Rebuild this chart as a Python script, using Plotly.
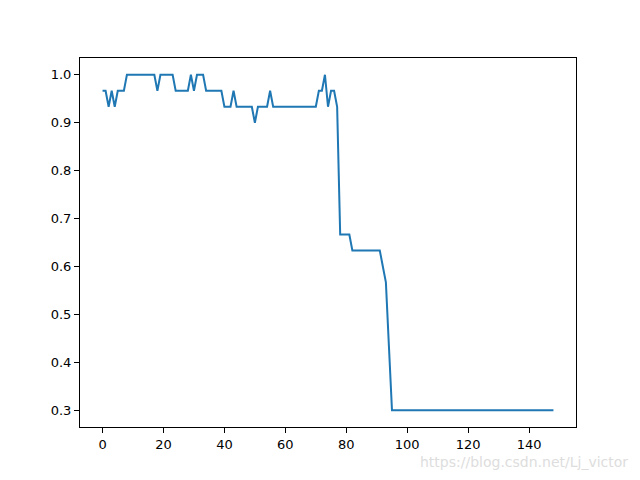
import plotly.graph_objects as go

epochs = list(range(149))
accuracy = [
    0.9667, 0.9667, 0.9333, 0.9667, 0.9333, 0.9667, 0.9667, 0.9667, 1.0, 1.0,
    1.0, 1.0, 1.0, 1.0, 1.0, 1.0, 1.0, 1.0, 0.9667, 1.0,
    1.0, 1.0, 1.0, 1.0, 0.9667, 0.9667, 0.9667, 0.9667, 0.9667, 1.0,
    0.9667, 1.0, 1.0, 1.0, 0.9667, 0.9667, 0.9667, 0.9667, 0.9667, 0.9667,
    0.9333, 0.9333, 0.9333, 0.9667, 0.9333, 0.9333, 0.9333, 0.9333, 0.9333, 0.9333,
    0.9, 0.9333, 0.9333, 0.9333, 0.9333, 0.9667, 0.9333, 0.9333, 0.9333, 0.9333,
    0.9333, 0.9333, 0.9333, 0.9333, 0.9333, 0.9333, 0.9333, 0.9333, 0.9333, 0.9333,
    0.9333, 0.9667, 0.9667, 1.0, 0.9333, 0.9667, 0.9667, 0.9333, 0.6667, 0.6667,
    0.6667, 0.6667, 0.6333, 0.6333, 0.6333, 0.6333, 0.6333, 0.6333, 0.6333, 0.6333,
    0.6333, 0.6333, 0.6, 0.5667, 0.4333, 0.3, 0.3, 0.3, 0.3, 0.3,
    0.3, 0.3, 0.3, 0.3, 0.3, 0.3, 0.3, 0.3, 0.3, 0.3,
    0.3, 0.3, 0.3, 0.3, 0.3, 0.3, 0.3, 0.3, 0.3, 0.3,
    0.3, 0.3, 0.3, 0.3, 0.3, 0.3, 0.3, 0.3, 0.3, 0.3,
    0.3, 0.3, 0.3, 0.3, 0.3, 0.3, 0.3, 0.3, 0.3, 0.3,
    0.3, 0.3, 0.3, 0.3, 0.3, 0.3, 0.3, 0.3, 0.3,
]
x_ticks = [0, 20, 40, 60, 80, 100, 120, 140]
y_ticks = [0.3, 0.4, 0.5, 0.6, 0.7, 0.8, 0.9, 1.0]
watermark = "https://blog.csdn.net/Lj_victor"

fig = go.Figure()
fig.add_trace(go.Scatter(x=epochs, y=accuracy, mode="lines",
                         line=dict(color="#1f77b4", width=2)))

axis_common = dict(showline=True, linecolor="black", linewidth=1, mirror=True,
                   ticks="outside", ticklen=5, tickwidth=1, tickcolor="black",
                   showgrid=False, zeroline=False,
                   tickfont=dict(family="DejaVu Sans", size=13, color="black"))

fig.update_xaxes(range=[-7.4, 155.4], tickvals=x_ticks,
                 ticktext=[str(v) for v in x_ticks], **axis_common)
fig.update_yaxes(range=[0.265, 1.035], tickvals=y_ticks,
                 ticktext=[f"{v:.1f}" for v in y_ticks], **axis_common)

fig.add_annotation(text=watermark, xref="paper", yref="paper",
                   x=1.109, y=-0.095, xanchor="right", yanchor="middle",
                   showarrow=False,
                   font=dict(family="DejaVu Sans", size=14, color="#dddddd"))

# page body adds an 8px offset; compensate so the plot area sits where the reference has it
fig.update_layout(width=632, height=472, showlegend=False,
                  paper_bgcolor="white", plot_bgcolor="white",
                  margin=dict(l=72, r=64, t=50, b=53))

fig.write_html("out.html")
